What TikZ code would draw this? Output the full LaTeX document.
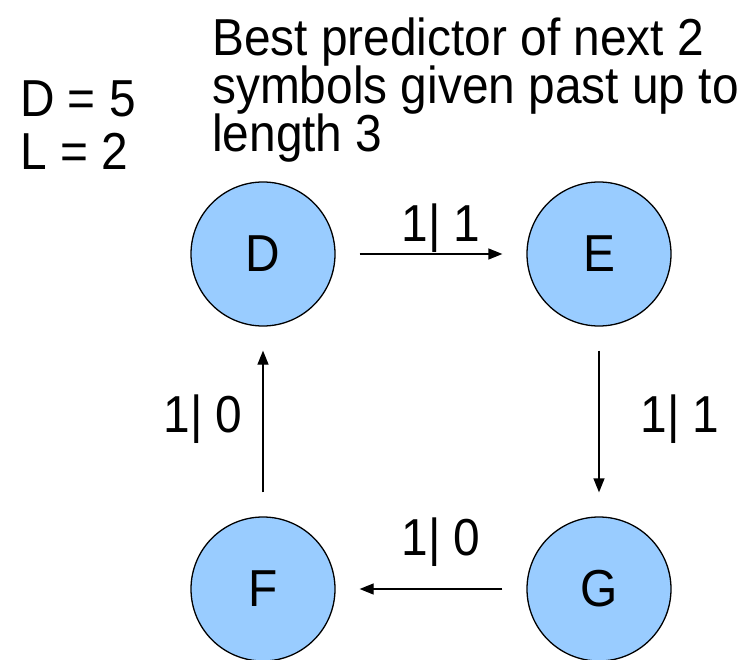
\documentclass[tikz,border=0pt]{standalone}
\usepackage{fontspec}
\setmainfont{Liberation Sans}[FakeStretch=0.92]
\usetikzlibrary{arrows.meta}
\definecolor{nodeblue}{HTML}{99CCFF}
\begin{document}
\begin{tikzpicture}[x=1pt,y=-1pt,
  state/.style={circle,draw=black,line width=1.3pt,fill=nodeblue,minimum size=144pt,inner sep=0pt,font=\fontsize{52}{48}\selectfont},
  txt/.style={anchor=base west,inner sep=0pt,font=\fontsize{52}{48}\selectfont},
  lbl/.style={anchor=base,inner sep=0pt,font=\fontsize{52}{48}\selectfont},
  arr/.style={-{Triangle[length=14pt,width=11pt]},line width=1.3pt,shorten <=24pt,shorten >=24pt}]
\useasboundingbox (0,0) rectangle (749,660);
\node[txt] (t1) at (212,56) {Best predictor of next 2};
\node[txt] (t2) at (212,104) {symbols given past up to};
\node[txt] (t3) at (212,152) {length 3};
\node[txt] (p1) at (20,117) {D = 5};
\node[txt] (p2) at (20,170) {L = 2};
\node[state] (D) at (263,254) {D};
\node[state] (E) at (599,254) {E};
\node[state] (F) at (263,589) {F};
\node[state] (G) at (599,589) {G};
\draw[arr] (D) -- (E);
\draw[arr] (E) -- (G);
\draw[arr] (G) -- (F);
\draw[arr] (F) -- (D);
\node[lbl] (l1) at (441,242) {1| 1};
\node[lbl] (l2) at (680,432) {1| 1};
\node[lbl] (l3) at (441,555) {1| 0};
\node[lbl] (l4) at (203,432) {1| 0};
\end{tikzpicture}
\end{document}
